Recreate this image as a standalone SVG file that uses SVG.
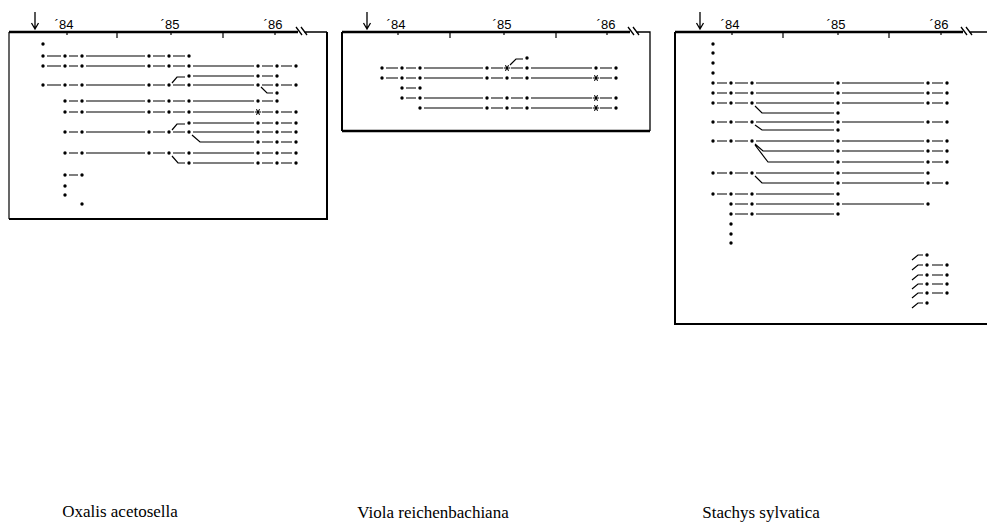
<svg xmlns="http://www.w3.org/2000/svg" xmlns:xlink="http://www.w3.org/1999/xlink" width="987" height="526" viewBox="0 0 987 526">
<style>
.ax{stroke:#000;stroke-width:2.5;fill:none}
.axt{stroke:#000;stroke-width:1.3;fill:none}
.fr{stroke:#000;stroke-width:2;fill:none}
.frt{stroke:#000;stroke-width:1.2;fill:none}
.tk{stroke:#000;stroke-width:1.2}
.sg{stroke:#000;stroke-width:1.2;fill:none}
.yr{font-family:"Liberation Sans",Arial,sans-serif;font-size:13px;text-anchor:middle;fill:#000}
.lbl{font-family:"Liberation Serif","Times New Roman",serif;font-size:17px;text-anchor:middle;fill:#000}
</style>
<defs>
<circle id="d" r="1.7" fill="#000"/>
<path id="ast" d="M-3.2,0H3.2M-1.6,-2.8L1.6,2.8M1.6,-2.8L-1.6,2.8" stroke="#000" stroke-width="1.1" fill="none"/>
<path id="arr" d="M0,12V29M-3.5,23L0,29L3.5,23" stroke="#000" stroke-width="1.3" fill="none"/>
</defs>

<!-- Panel 1: Oxalis acetosella -->
<g id="panel1-frame">
<use xlink:href="#arr" x="35" y="0"/>
<path class="ax" d="M9,32H298"/>
<path class="axt" d="M296,27L302,35M301,27L307,35M304,32H327"/>
<path class="frt" d="M9,32V219"/>
<path class="fr" d="M9,219H327V32"/>
<path class="tk" d="M67,32V35M117,32V38M171,32V35M223,32V38M275,32V35"/>
<text class="yr" x="64" y="29">´84</text>
<text class="yr" x="170" y="29">´85</text>
<text class="yr" x="273" y="29">´86</text>
</g>
<g id="panel1-connectors">
<path class="sg" d="M47,56H61M69,56H78M86,56H145M153,56H165M173,56H185
M47,66H61M69,66H78M86,66H145M153,66H165M173,66H185M193,66H254M262,66H273M281,66H292
M172,83L177,77H185M193,76H254M262,76H273
M47,85H61M69,85H78M86,85H145M153,85H165M173,85H185M193,85H254M262,85H273M281,85H292M261,87L267,93H273
M69,101H78M86,101H145M153,101H165M173,101H185M193,101H254M262,101H273
M69,112H78M86,112H145M153,112H165M173,112H185M193,112H254M262,112H273M281,112H292
M172,130L177,124H185M193,123H254M262,123H273M281,123H292
M69,132H78M86,132H145M153,132H165M173,132H185M193,132H254M262,132H273M281,132H292
M192,135L200,142H254M262,142H273M281,142H292
M69,153H78M86,153H145M153,153H165M173,153H185M193,153H254M262,153H273M281,153H292
M172,156L178,163H185M193,163H254M262,163H273M281,163H292
M69,175H78"/>
</g>
<g id="panel1-nodes">
<use xlink:href="#d" x="43" y="44"/>
<use xlink:href="#d" x="43" y="56"/><use xlink:href="#d" x="65" y="56"/><use xlink:href="#d" x="82" y="56"/><use xlink:href="#d" x="149" y="56"/><use xlink:href="#d" x="169" y="56"/><use xlink:href="#d" x="189" y="56"/>
<use xlink:href="#d" x="43" y="66"/><use xlink:href="#d" x="65" y="66"/><use xlink:href="#d" x="82" y="66"/><use xlink:href="#d" x="149" y="66"/><use xlink:href="#d" x="169" y="66"/><use xlink:href="#d" x="189" y="66"/><use xlink:href="#d" x="258" y="66"/><use xlink:href="#d" x="277" y="66"/><use xlink:href="#d" x="296" y="66"/>
<use xlink:href="#d" x="189" y="76"/><use xlink:href="#d" x="258" y="76"/><use xlink:href="#d" x="277" y="76"/>
<use xlink:href="#d" x="43" y="85"/><use xlink:href="#d" x="65" y="85"/><use xlink:href="#d" x="82" y="85"/><use xlink:href="#d" x="149" y="85"/><use xlink:href="#d" x="169" y="85"/><use xlink:href="#d" x="189" y="85"/><use xlink:href="#d" x="258" y="85"/><use xlink:href="#d" x="277" y="85"/><use xlink:href="#d" x="296" y="85"/><use xlink:href="#d" x="277" y="93"/>
<use xlink:href="#d" x="65" y="101"/><use xlink:href="#d" x="82" y="101"/><use xlink:href="#d" x="149" y="101"/><use xlink:href="#d" x="169" y="101"/><use xlink:href="#d" x="189" y="101"/><use xlink:href="#d" x="258" y="101"/><use xlink:href="#d" x="277" y="101"/>
<use xlink:href="#d" x="65" y="112"/><use xlink:href="#d" x="82" y="112"/><use xlink:href="#d" x="149" y="112"/><use xlink:href="#d" x="169" y="112"/><use xlink:href="#d" x="189" y="112"/><use xlink:href="#ast" x="258" y="112"/><use xlink:href="#d" x="277" y="112"/><use xlink:href="#d" x="296" y="112"/>
<use xlink:href="#d" x="189" y="123"/><use xlink:href="#d" x="258" y="123"/><use xlink:href="#d" x="277" y="123"/><use xlink:href="#d" x="296" y="123"/>
<use xlink:href="#d" x="65" y="132"/><use xlink:href="#d" x="82" y="132"/><use xlink:href="#d" x="149" y="132"/><use xlink:href="#d" x="169" y="132"/><use xlink:href="#d" x="189" y="132"/><use xlink:href="#d" x="258" y="132"/><use xlink:href="#d" x="277" y="132"/><use xlink:href="#d" x="296" y="132"/>
<use xlink:href="#d" x="258" y="142"/><use xlink:href="#d" x="277" y="142"/><use xlink:href="#d" x="296" y="142"/>
<use xlink:href="#d" x="65" y="153"/><use xlink:href="#d" x="82" y="153"/><use xlink:href="#d" x="149" y="153"/><use xlink:href="#d" x="169" y="153"/><use xlink:href="#d" x="189" y="153"/><use xlink:href="#d" x="258" y="153"/><use xlink:href="#d" x="277" y="153"/><use xlink:href="#d" x="296" y="153"/>
<use xlink:href="#d" x="189" y="163"/><use xlink:href="#d" x="258" y="163"/><use xlink:href="#d" x="277" y="163"/><use xlink:href="#d" x="296" y="163"/>
<use xlink:href="#d" x="65" y="175"/><use xlink:href="#d" x="82" y="175"/>
<use xlink:href="#d" x="65" y="186"/><use xlink:href="#d" x="65" y="195"/><use xlink:href="#d" x="82" y="204"/>
</g>

<!-- Panel 2: Viola reichenbachiana -->
<g id="panel2-frame">
<use xlink:href="#arr" x="367" y="0"/>
<path class="ax" d="M342,32H630"/>
<path class="axt" d="M628,27L634,35M633,27L639,35M636,32H650V131"/>
<path class="fr" d="M342,32V131"/>
<path class="ax" d="M342,131H650"/>
<path class="tk" d="M398,32V35M450,32V38M504,32V35M556,32V38M607,32V35"/>
<text class="yr" x="396" y="29">´84</text>
<text class="yr" x="502" y="29">´85</text>
<text class="yr" x="606" y="29">´86</text>
</g>
<g id="panel2-connectors">
<path class="sg" d="M510,65L516,59H523
M386,68H398M406,68H416M424,68H483M491,68H503M511,68H523M531,68H592M600,68H612
M386,78H398M406,78H416M424,78H483M491,78H503M511,78H523M531,78H592M600,78H612
M406,88H416
M406,98H416M424,98H483M491,98H503M511,98H523M531,98H592M600,98H612
M424,108H483M491,108H503M511,108H523M531,108H592M600,108H612"/>
</g>
<g id="panel2-nodes">
<use xlink:href="#d" x="527" y="58"/>
<use xlink:href="#d" x="382" y="68"/><use xlink:href="#d" x="402" y="68"/><use xlink:href="#d" x="420" y="68"/><use xlink:href="#d" x="487" y="68"/><use xlink:href="#ast" x="507" y="68"/><use xlink:href="#d" x="527" y="68"/><use xlink:href="#d" x="596" y="68"/><use xlink:href="#d" x="616" y="68"/>
<use xlink:href="#d" x="382" y="78"/><use xlink:href="#d" x="402" y="78"/><use xlink:href="#d" x="420" y="78"/><use xlink:href="#d" x="487" y="78"/><use xlink:href="#d" x="507" y="78"/><use xlink:href="#d" x="527" y="78"/><use xlink:href="#ast" x="596" y="78"/><use xlink:href="#d" x="616" y="78"/>
<use xlink:href="#d" x="402" y="88"/><use xlink:href="#d" x="420" y="88"/>
<use xlink:href="#d" x="402" y="98"/><use xlink:href="#d" x="420" y="98"/><use xlink:href="#d" x="487" y="98"/><use xlink:href="#d" x="507" y="98"/><use xlink:href="#d" x="527" y="98"/><use xlink:href="#ast" x="596" y="98"/><use xlink:href="#d" x="616" y="98"/>
<use xlink:href="#d" x="420" y="108"/><use xlink:href="#d" x="487" y="108"/><use xlink:href="#d" x="507" y="108"/><use xlink:href="#d" x="527" y="108"/><use xlink:href="#ast" x="596" y="108"/><use xlink:href="#d" x="616" y="108"/>
</g>

<!-- Panel 3: Stachys sylvatica -->
<g id="panel3-frame">
<use xlink:href="#arr" x="700" y="0"/>
<path class="ax" d="M675,32H963"/>
<path class="axt" d="M961,27L967,35M966,27L972,35M969,32H987"/>
<path class="fr" d="M675,32V324H987"/>
<path class="tk" d="M732,32V35M783,32V38M838,32V35M889,32V38M941,32V35"/>
<text class="yr" x="730" y="29">´84</text>
<text class="yr" x="836" y="29">´85</text>
<text class="yr" x="939" y="29">´86</text>
</g>
<g id="panel3-connectors">
<path class="sg" d="M717,83H727M735,83H748M756,83H834M842,83H924M932,83H943
M717,93H727M735,93H748M756,93H834M842,93H924M932,93H943
M717,103H727M735,103H748M756,103H834M842,103H924M932,103H943
M755,106L762,113H834
M717,122H727M735,122H748M756,122H834M842,122H924M932,122H943
M755,125L762,130H834
M717,141H727M735,141H748M756,141H834M842,141H924M932,141H943
M755,144L763,151H834M842,151H924M932,151H943
M755,145L768,162H834M842,162H924M932,162H943
M717,173H727M735,173H748M756,173H834M842,173H924
M755,176L762,183H834M842,183H924M932,183H943
M717,194H727M735,194H748M756,194H834
M735,204H748M756,204H834M842,204H924
M735,214H748M756,214H834
M912,260L918,255H923
M912,270L918,265H923M932,265H943
M912,280L918,275H923M932,275H943
M912,289L918,284H923M932,284H943
M912,298L918,293H923M932,293H943
M912,308L918,303H923"/>
</g>
<g id="panel3-nodes">
<use xlink:href="#d" x="713" y="44"/><use xlink:href="#d" x="713" y="53"/><use xlink:href="#d" x="713" y="63"/><use xlink:href="#d" x="713" y="73"/>
<use xlink:href="#d" x="713" y="83"/><use xlink:href="#d" x="731" y="83"/><use xlink:href="#d" x="752" y="83"/><use xlink:href="#d" x="838" y="83"/><use xlink:href="#d" x="928" y="83"/><use xlink:href="#d" x="947" y="83"/>
<use xlink:href="#d" x="713" y="93"/><use xlink:href="#d" x="731" y="93"/><use xlink:href="#d" x="752" y="93"/><use xlink:href="#d" x="838" y="93"/><use xlink:href="#d" x="928" y="93"/><use xlink:href="#d" x="947" y="93"/>
<use xlink:href="#d" x="713" y="103"/><use xlink:href="#d" x="731" y="103"/><use xlink:href="#d" x="752" y="103"/><use xlink:href="#d" x="838" y="103"/><use xlink:href="#d" x="928" y="103"/><use xlink:href="#d" x="947" y="103"/>
<use xlink:href="#d" x="838" y="113"/>
<use xlink:href="#d" x="713" y="122"/><use xlink:href="#d" x="731" y="122"/><use xlink:href="#d" x="752" y="122"/><use xlink:href="#d" x="838" y="122"/><use xlink:href="#d" x="928" y="122"/><use xlink:href="#d" x="947" y="122"/>
<use xlink:href="#d" x="838" y="130"/>
<use xlink:href="#d" x="713" y="141"/><use xlink:href="#d" x="731" y="141"/><use xlink:href="#d" x="752" y="141"/><use xlink:href="#d" x="838" y="141"/><use xlink:href="#d" x="928" y="141"/><use xlink:href="#d" x="947" y="141"/>
<use xlink:href="#d" x="838" y="151"/><use xlink:href="#d" x="928" y="151"/><use xlink:href="#d" x="947" y="151"/>
<use xlink:href="#d" x="838" y="162"/><use xlink:href="#d" x="928" y="162"/><use xlink:href="#d" x="947" y="162"/>
<use xlink:href="#d" x="713" y="173"/><use xlink:href="#d" x="731" y="173"/><use xlink:href="#d" x="752" y="173"/><use xlink:href="#d" x="838" y="173"/><use xlink:href="#d" x="928" y="173"/>
<use xlink:href="#d" x="838" y="183"/><use xlink:href="#d" x="928" y="183"/><use xlink:href="#d" x="947" y="183"/>
<use xlink:href="#d" x="713" y="194"/><use xlink:href="#d" x="731" y="194"/><use xlink:href="#d" x="752" y="194"/><use xlink:href="#d" x="838" y="194"/>
<use xlink:href="#d" x="731" y="204"/><use xlink:href="#d" x="752" y="204"/><use xlink:href="#d" x="838" y="204"/><use xlink:href="#d" x="928" y="204"/>
<use xlink:href="#d" x="731" y="214"/><use xlink:href="#d" x="752" y="214"/><use xlink:href="#d" x="838" y="214"/>
<use xlink:href="#d" x="731" y="224"/><use xlink:href="#d" x="731" y="234"/><use xlink:href="#d" x="731" y="243"/>
<use xlink:href="#d" x="927" y="255"/>
<use xlink:href="#d" x="927" y="265"/><use xlink:href="#d" x="947" y="265"/>
<use xlink:href="#d" x="927" y="275"/><use xlink:href="#d" x="947" y="275"/>
<use xlink:href="#d" x="927" y="284"/><use xlink:href="#d" x="947" y="284"/>
<use xlink:href="#d" x="927" y="293"/><use xlink:href="#d" x="947" y="293"/>
<use xlink:href="#d" x="927" y="303"/>
</g>

<g id="labels">
<text class="lbl" x="120" y="517">Oxalis acetosella</text>
<text class="lbl" x="433" y="518">Viola reichenbachiana</text>
<text class="lbl" x="761" y="518">Stachys sylvatica</text>
</g>
</svg>
